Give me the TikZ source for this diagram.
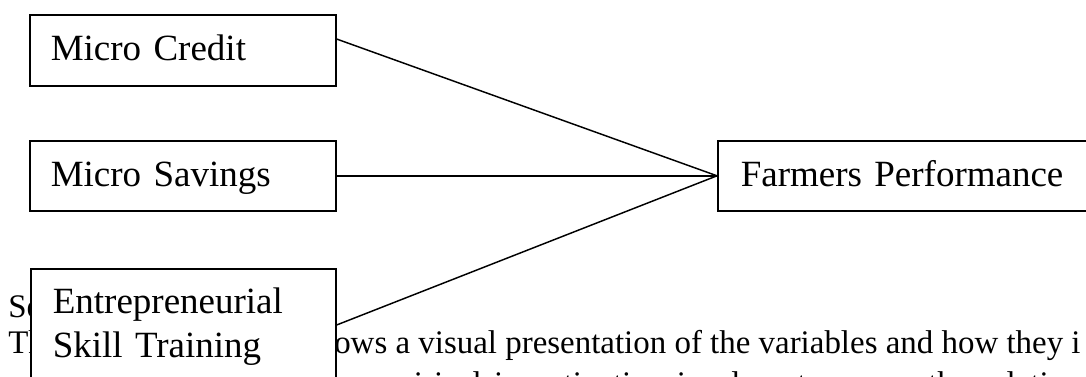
\documentclass[tikz,border=0pt]{standalone}
\usepackage{fontspec}
\setmainfont{Liberation Serif}
\usetikzlibrary{calc}
\begin{document}
\begin{tikzpicture}[x=0.75pt,y=-0.75pt,
  boxfont/.style={font=\fontsize{27.75pt}{33pt}\selectfont},
  bodyfont/.style={font=\fontsize{24.7pt}{27pt}\selectfont},
  framed/.style={draw, line width=1.2pt, fill=white, boxfont, align=left, anchor=north west},
  varbox/.style={framed, inner ysep=0pt, text height=18.9pt, text depth=3.3pt},
  link/.style={line width=1.1pt},
  bodytext/.style={bodyfont, anchor=base west, inner sep=0pt}]

\useasboundingbox (0,0) rectangle (1086,376);
\clip (0,0) rectangle (1086,376);

% running text of the page, partly hidden behind the boxes
\node[bodytext] (s1) at (8,317) {Se};
\node[bodytext] (s2) at (8,353) {Th};
\node[bodytext] (s3) at (334,353) {ows a visual presentation of the variables and how they i};
\node[bodytext] (s4) at (357,394) {\spaceskip=9.4pt empirical investigation in place to assess the relati};

% variable boxes
\node[varbox, minimum height=53.25pt, text width=198pt, inner xsep=15.75pt] (mc) at (29,14) {Micro Credit};
\node[varbox, minimum height=52.5pt, text width=198pt, inner xsep=15.75pt] (ms) at (29,140) {Micro Savings};
\node[framed, text width=195.75pt, inner xsep=16.5pt, inner ysep=14pt] (es) at (30,268) {Entrepreneurial\\Skill Training};
\node[varbox, minimum height=52.5pt, text width=267.75pt, inner xsep=17.25pt] (fp) at (717,140) {Farmers Performance};

% links to the outcome
\draw[link] ($(mc.north east)+(0,25)$) -- (fp.west);
\draw[link] (ms.east) -- (fp.west);
\draw[link] ($(es.north east)+(0,57)$) -- (fp.west);
\end{tikzpicture}
\end{document}
